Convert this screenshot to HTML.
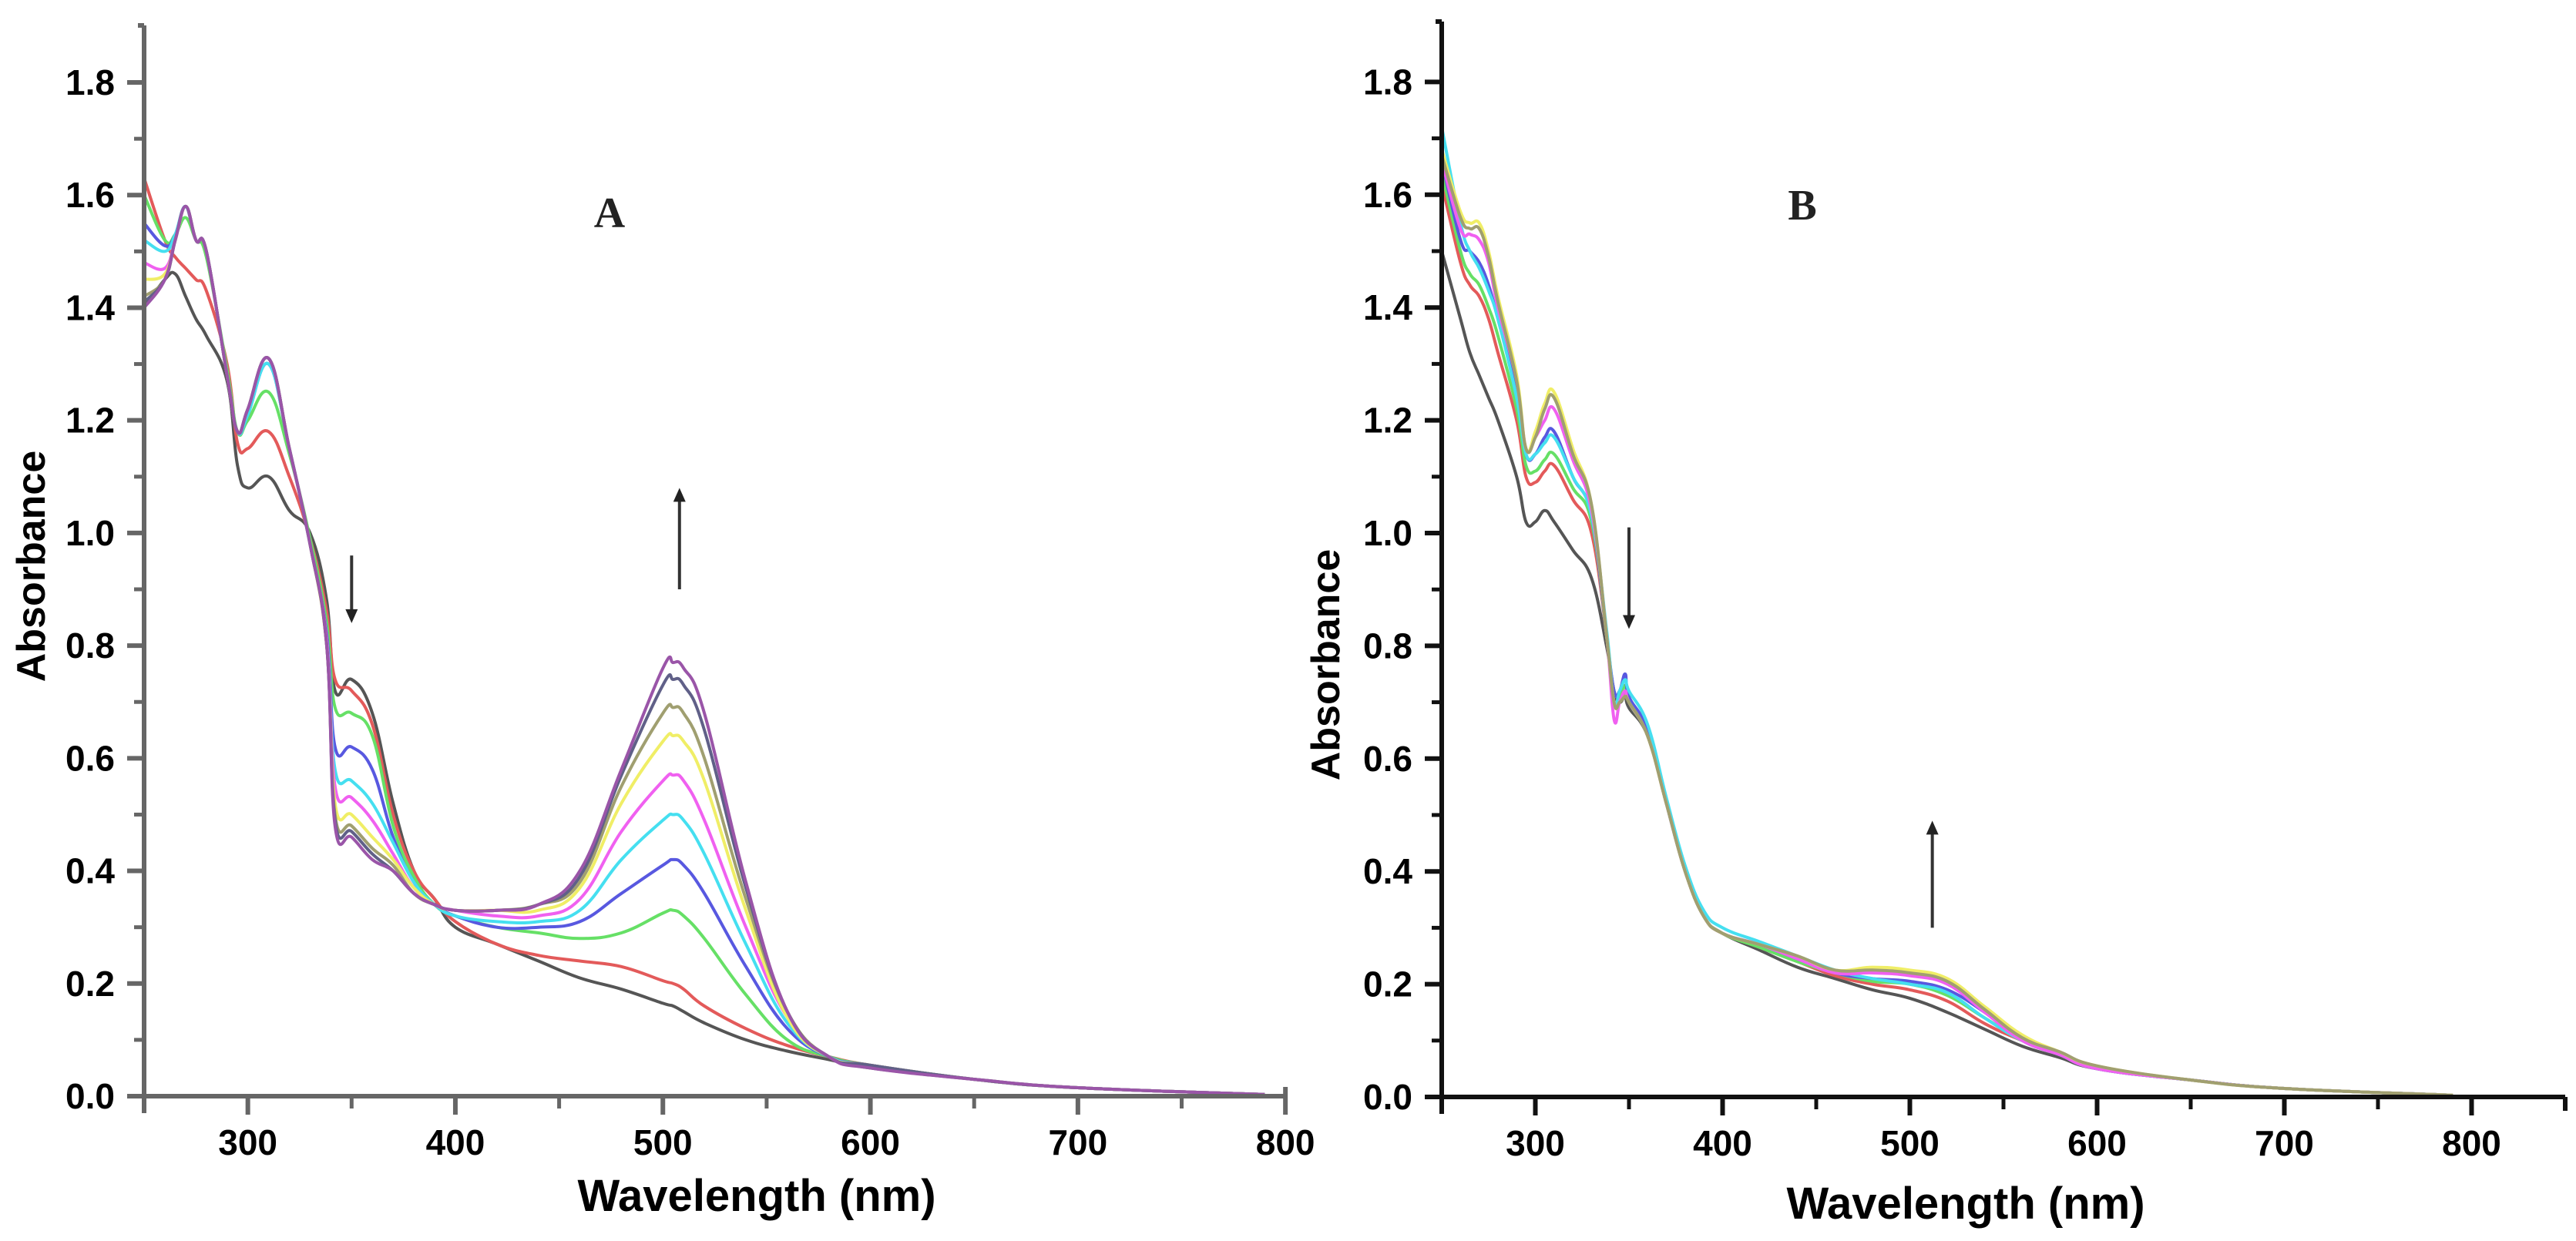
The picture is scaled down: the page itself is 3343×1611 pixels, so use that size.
<!DOCTYPE html>
<html><head><meta charset="utf-8"><style>
html,body{margin:0;padding:0;background:#fff}
svg{display:block}
text{font-family:"Liberation Sans",sans-serif}
</style></head><body>
<svg id="fig" width="3343" height="1611" viewBox="0 0 3343 1611" xmlns="http://www.w3.org/2000/svg">
<rect width="3343" height="1611" fill="#fff"/>
<g id="panelA"></g>
<g id="panelB"></g>
</svg>
<script>
// ---------- data: panel A ----------
const wavelengthsA = [250,260,265,270,275,280,290,295,300,310,320,330,338,342,350,360,370,380,390,400,420,440,460,480,500,505,510,520,540,560,580,600,650,700,790];
const seriesNamesA = ["gray","red","green","blue","cyan","magenta","yellow","olive","slate","purple"];
const absA_gray    = [1.40,1.45,1.46,1.42,1.38,1.35,1.27,1.12,1.08,1.10,1.04,1.00,0.88,0.72,0.74,0.68,0.52,0.40,0.35,0.30,0.27,0.24,0.21,0.19,0.165,0.16,0.15,0.13,0.10,0.08,0.065,0.05,0.03,0.015,0.003];
const absA_red     = [1.63,1.52,1.49,1.47,1.45,1.43,1.30,1.16,1.15,1.18,1.10,0.99,0.86,0.74,0.72,0.66,0.50,0.40,0.35,0.31,0.27,0.25,0.24,0.23,0.205,0.20,0.19,0.16,0.12,0.09,0.07,0.055,0.03,0.015,0.003];
const absA_green   = [1.60,1.52,1.53,1.56,1.52,1.49,1.29,1.18,1.20,1.25,1.14,0.99,0.84,0.69,0.68,0.64,0.48,0.39,0.34,0.32,0.30,0.29,0.28,0.29,0.325,0.33,0.32,0.28,0.18,0.10,0.07,0.055,0.03,0.015,0.003];
const absA_blue    = [1.55,1.51,1.53,1.58,1.52,1.50,1.28,1.18,1.21,1.30,1.15,0.98,0.82,0.62,0.62,0.58,0.46,0.38,0.34,0.32,0.30,0.30,0.31,0.36,0.41,0.42,0.41,0.36,0.23,0.12,0.07,0.055,0.03,0.015,0.003];
const absA_cyan    = [1.52,1.50,1.53,1.58,1.52,1.50,1.28,1.18,1.21,1.30,1.15,0.98,0.81,0.58,0.56,0.52,0.45,0.38,0.34,0.32,0.31,0.31,0.33,0.42,0.49,0.50,0.49,0.43,0.27,0.13,0.07,0.055,0.03,0.015,0.003];
const absA_magenta = [1.48,1.47,1.52,1.58,1.52,1.50,1.28,1.18,1.22,1.31,1.15,0.98,0.81,0.55,0.53,0.49,0.43,0.37,0.34,0.33,0.32,0.32,0.35,0.47,0.56,0.57,0.56,0.49,0.30,0.14,0.07,0.055,0.03,0.015,0.003];
const absA_yellow  = [1.45,1.46,1.52,1.58,1.52,1.50,1.28,1.18,1.22,1.31,1.15,0.98,0.80,0.52,0.50,0.46,0.42,0.37,0.34,0.33,0.33,0.33,0.37,0.52,0.63,0.64,0.63,0.56,0.33,0.14,0.07,0.055,0.03,0.015,0.003];
const absA_olive   = [1.42,1.45,1.52,1.58,1.52,1.50,1.28,1.18,1.22,1.31,1.15,0.98,0.80,0.50,0.48,0.44,0.41,0.36,0.34,0.33,0.33,0.34,0.38,0.55,0.68,0.69,0.68,0.60,0.35,0.15,0.07,0.055,0.03,0.015,0.003];
const absA_slate   = [1.41,1.45,1.52,1.58,1.52,1.50,1.28,1.18,1.22,1.31,1.15,0.98,0.80,0.49,0.47,0.43,0.40,0.36,0.34,0.33,0.33,0.34,0.39,0.57,0.73,0.74,0.73,0.65,0.37,0.15,0.07,0.055,0.03,0.015,0.003];
const absA_purple  = [1.40,1.45,1.52,1.58,1.52,1.50,1.28,1.18,1.22,1.31,1.15,0.98,0.80,0.48,0.46,0.42,0.40,0.36,0.34,0.33,0.33,0.34,0.40,0.58,0.76,0.77,0.76,0.68,0.38,0.15,0.07,0.05,0.03,0.015,0.003];

// ---------- data: panel B ----------
const wavelengthsB = [250,260,265,270,275,280,290,295,300,305,310,320,330,338,342,345,348,350,360,370,380,390,400,420,440,460,480,500,520,540,560,580,600,650,700,790];
const seriesNamesB = ["gray","red","green","blue","cyan","magenta","yellow","olive"];
const absB_gray    = [1.50,1.38,1.32,1.28,1.24,1.20,1.10,1.02,1.02,1.04,1.02,0.97,0.92,0.80,0.72,0.70,0.71,0.69,0.64,0.52,0.40,0.32,0.29,0.26,0.23,0.21,0.19,0.175,0.15,0.12,0.09,0.07,0.05,0.03,0.015,0.003];
const absB_red     = [1.62,1.48,1.44,1.42,1.38,1.32,1.20,1.10,1.09,1.11,1.12,1.06,1.00,0.82,0.70,0.70,0.72,0.70,0.64,0.52,0.40,0.32,0.29,0.265,0.24,0.215,0.20,0.19,0.17,0.13,0.10,0.075,0.05,0.03,0.015,0.003];
const absB_green   = [1.64,1.50,1.46,1.44,1.40,1.35,1.22,1.12,1.11,1.13,1.14,1.08,1.02,0.82,0.70,0.71,0.73,0.70,0.64,0.52,0.40,0.32,0.29,0.265,0.24,0.22,0.205,0.20,0.18,0.14,0.10,0.075,0.05,0.03,0.015,0.003];
const absB_blue    = [1.66,1.52,1.50,1.48,1.44,1.38,1.25,1.14,1.14,1.17,1.18,1.10,1.03,0.82,0.72,0.72,0.75,0.71,0.65,0.52,0.40,0.32,0.29,0.27,0.245,0.22,0.21,0.205,0.19,0.15,0.10,0.075,0.05,0.03,0.015,0.003];
const absB_cyan    = [1.72,1.55,1.50,1.47,1.43,1.38,1.24,1.14,1.14,1.16,1.17,1.10,1.03,0.83,0.70,0.72,0.74,0.72,0.66,0.53,0.41,0.33,0.30,0.275,0.25,0.225,0.21,0.20,0.185,0.14,0.10,0.075,0.05,0.03,0.015,0.003];
const absB_magenta = [1.66,1.54,1.53,1.52,1.48,1.40,1.27,1.15,1.17,1.20,1.22,1.13,1.04,0.82,0.67,0.70,0.72,0.70,0.64,0.52,0.40,0.32,0.29,0.27,0.245,0.22,0.22,0.215,0.20,0.15,0.10,0.075,0.05,0.03,0.015,0.003];
const absB_yellow  = [1.68,1.57,1.55,1.55,1.50,1.42,1.28,1.15,1.18,1.23,1.25,1.15,1.05,0.82,0.70,0.70,0.71,0.70,0.64,0.52,0.40,0.32,0.29,0.27,0.25,0.225,0.23,0.225,0.21,0.16,0.11,0.08,0.055,0.03,0.015,0.003];
const absB_olive   = [1.67,1.56,1.54,1.54,1.49,1.41,1.27,1.15,1.17,1.22,1.24,1.14,1.05,0.82,0.70,0.70,0.71,0.70,0.64,0.52,0.40,0.32,0.29,0.27,0.25,0.225,0.225,0.22,0.205,0.155,0.105,0.08,0.055,0.03,0.015,0.003];

const yTickLabels = ["0.0","0.2","0.4","0.6","0.8","1.0","1.2","1.4","1.6","1.8"];
const xTickLabels = ["300","400","500","600","700","800"];

const colors = {gray:"#555",red:"#e35a5a",green:"#66e066",blue:"#5858e0",cyan:"#45dff0",magenta:"#f060f0",yellow:"#f0ee66",olive:"#a09f70",slate:"#606088",purple:"#9a55a8"};
const seriesA = {gray:absA_gray,red:absA_red,green:absA_green,blue:absA_blue,cyan:absA_cyan,magenta:absA_magenta,yellow:absA_yellow,olive:absA_olive,slate:absA_slate,purple:absA_purple};
const seriesB = {gray:absB_gray,red:absB_red,green:absB_green,blue:absB_blue,cyan:absB_cyan,magenta:absB_magenta,yellow:absB_yellow,olive:absB_olive};

const NS = "http://www.w3.org/2000/svg";
function mk(tag, attrs, parent){
  const e = document.createElementNS(NS, tag);
  for (const k in attrs) e.setAttribute(k, attrs[k]);
  parent.appendChild(e); return e;
}
function smoothPath(pts){
  let d = "M" + pts[0][0].toFixed(1) + " " + pts[0][1].toFixed(1);
  for (let i=0;i<pts.length-1;i++){
    const p0 = pts[Math.max(0,i-1)], p1 = pts[i], p2 = pts[i+1], p3 = pts[Math.min(pts.length-1,i+2)];
    const t = 0.2;
    const c1x = p1[0] + (p2[0]-p0[0])*t, c1y = p1[1] + (p2[1]-p0[1])*t;
    const c2x = p2[0] - (p3[0]-p1[0])*t, c2y = p2[1] - (p3[1]-p1[1])*t;
    d += "C" + c1x.toFixed(1)+" "+c1y.toFixed(1)+" "+c2x.toFixed(1)+" "+c2y.toFixed(1)+" "+p2[0].toFixed(1)+" "+p2[1].toFixed(1);
  }
  return d;
}

function drawPanel(g, cfg, wl, names, series){
  const xS = v => cfg.x0 + (v-250)*cfg.px100/100;
  const yS = v => cfg.y0 - v*cfg.pxU;
  const ax = cfg.axisColor;
  names.forEach(n=>{
    const vals = series[n];
    const pts = wl.map((w,i)=>[xS(w), yS(vals[i])]);
    const p = mk("path",{d:smoothPath(pts),fill:"none",stroke:colors[n],"stroke-width":4,"stroke-linejoin":"round"},g);
    
    
  });
  const ya = mk("line",{x1:cfg.x0,y1:cfg.yTop,x2:cfg.x0,y2:cfg.y0+22,stroke:ax,"stroke-width":6},g);
  
  
  mk("line",{x1:cfg.x0,y1:cfg.yTop,x2:cfg.x0-8,y2:cfg.yTop,stroke:ax,"stroke-width":6},g);
  const xa = mk("line",{x1:cfg.x0-22,y1:cfg.y0,x2:xS(cfg.xEnd),y2:cfg.y0,stroke:ax,"stroke-width":6},g);
  
  
  mk("line",{x1:xS(cfg.xEnd),y1:cfg.y0,x2:xS(cfg.xEnd),y2:cfg.y0+cfg.hook,stroke:ax,"stroke-width":6},g);
  yTickLabels.forEach((lab,i)=>{
    const v = parseFloat(lab);
    mk("line",{x1:cfg.x0-22,y1:yS(v),x2:cfg.x0,y2:yS(v),stroke:ax,"stroke-width":6},g);
    const t = mk("text",{x:cfg.x0-38,y:yS(v)+16,"text-anchor":"end","font-size":46,"font-weight":"bold",fill:"#000"},g);
    t.textContent = lab;
    
    
    if (i < yTickLabels.length-1) mk("line",{x1:cfg.x0-13,y1:yS(v+0.1),x2:cfg.x0,y2:yS(v+0.1),stroke:ax,"stroke-width":5},g);
  });
  xTickLabels.forEach(lab=>{
    const v = parseFloat(lab);
    mk("line",{x1:xS(v),y1:cfg.y0,x2:xS(v),y2:cfg.y0+24,stroke:ax,"stroke-width":6},g);
    mk("line",{x1:xS(v-50),y1:cfg.y0,x2:xS(v-50),y2:cfg.y0+16,stroke:ax,"stroke-width":5},g);
    const t = mk("text",{x:xS(v),y:cfg.y0+76,"text-anchor":"middle","font-size":46,"font-weight":"bold",fill:"#000"},g);
    t.textContent = lab;
    
    
  });
  if (cfg.xEnd > 800) mk("line",{x1:xS(850),y1:cfg.y0,x2:xS(850),y2:cfg.y0+16,stroke:ax,"stroke-width":5},g);
  const xt = mk("text",{x:cfg.xTitleX,y:cfg.xTitleY,"text-anchor":"middle","font-size":58,"font-weight":"bold",fill:"#000"},g);
  xt.textContent = "Wavelength (nm)";
  
  
  const yt = mk("text",{x:0,y:0,"text-anchor":"middle","font-size":52,"font-weight":"bold",fill:"#000",transform:`translate(${cfg.yTitleX},${cfg.yTitleY}) rotate(-90)`},g);
  yt.textContent = "Absorbance";
  
  
  const pl = mk("text",{x:cfg.labelX,y:cfg.labelY,"text-anchor":"middle","font-size":56,"font-weight":"bold",fill:"#222",style:"font-family:'Liberation Serif',serif"},g);
  pl.textContent = cfg.label;
  
  
  cfg.arrows.forEach(a=>{
    const x = xS(a.w), y1 = yS(a.from), y2 = yS(a.to);
    mk("line",{x1:x,y1:y1,x2:x,y2:y2 + (a.to<a.from? -14: 14),stroke:"#333","stroke-width":4},g);
    const dir = a.to<a.from ? 1 : -1;
    const ar = mk("polygon",{points:`${x-8},${y2-dir*18} ${x+8},${y2-dir*18} ${x},${y2}`,fill:"#222"},g);
    
    
  });
}

drawPanel(document.getElementById("panelA"), {
  x0:187, y0:1423, px100:269.3, pxU:731.1, yTop:33, xEnd:800, hook:-12, axisColor:"#666",
  xTitleX:982, xTitleY:1572, yTitleX:58, yTitleY:735, label:"A", labelX:791, labelY:295,
  arrows:[{w:350,from:0.96,to:0.84},{w:508,from:0.90,to:1.08}]
}, wavelengthsA, seriesNamesA, seriesA);

drawPanel(document.getElementById("panelB"), {
  x0:1871, y0:1424, px100:243, pxU:732, yTop:28, xEnd:850, hook:18, axisColor:"#111",
  xTitleX:2551, xTitleY:1582, yTitleX:1738, yTitleY:863, label:"B", labelX:2339, labelY:285,
  arrows:[{w:350,from:1.01,to:0.83},{w:512,from:0.30,to:0.49}]
}, wavelengthsB, seriesNamesB, seriesB);
</script>
</body></html>
